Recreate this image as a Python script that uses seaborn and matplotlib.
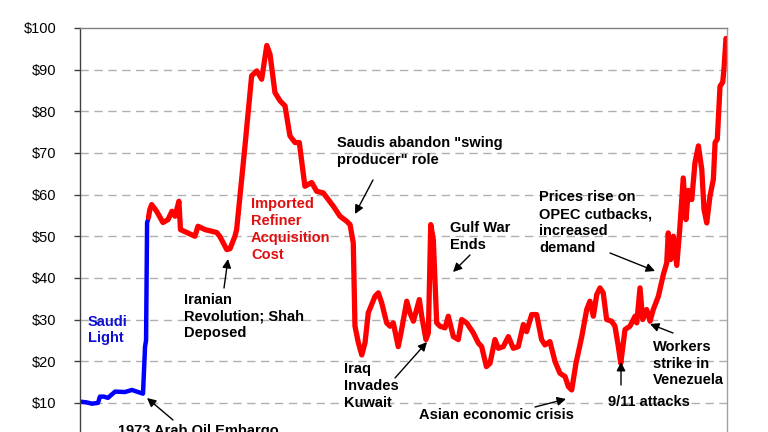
import matplotlib
matplotlib.use("Agg")
import matplotlib.pyplot as plt
import seaborn as sns
import pandas as pd

# ---- data (inflation-adjusted $/bbl) ----
saudi_year = [1970.0, 1970.4, 1970.7, 1971.06, 1971.17, 1971.4, 1971.64, 1972.06, 1972.64,
              1973.05, 1973.41, 1973.7, 1973.82, 1973.88, 1973.94, 1974.0]
saudi_price = [10.3, 10.1, 9.8, 10.0, 11.5, 11.5, 11.2, 12.7, 12.6, 13.1, 12.6, 12.2, 23.5, 25.0, 53.3, 54.0]

rac_year = [1974.02, 1974.1, 1974.21, 1974.5, 1974.87, 1975.17, 1975.4, 1975.58, 1975.81, 1975.9,
            1976.17, 1976.75, 1976.93, 1977.34, 1978.03, 1978.22, 1978.62, 1978.81, 1979.1, 1979.2,
            1979.69, 1980.08, 1980.38, 1980.67, 1980.97, 1981.16, 1981.45, 1981.75, 1982.04, 1982.33,
            1982.63, 1982.88, 1983.21, 1983.61, 1983.9, 1984.29, 1984.88, 1985.27, 1985.66, 1985.86,
            1986.05, 1986.15, 1986.35, 1986.55, 1986.74, 1986.93, 1987.33, 1987.52, 1987.72, 1988.01,
            1988.21, 1988.4, 1988.69, 1988.89, 1989.19, 1989.38, 1989.58, 1989.93, 1990.07, 1990.32,
            1990.46, 1990.6, 1990.75, 1990.95, 1991.14, 1991.44, 1991.63, 1991.93, 1992.22, 1992.42,
            1992.71, 1993.1, 1993.39, 1993.59, 1993.87, 1994.08, 1994.37, 1994.57, 1994.86, 1995.16,
            1995.45, 1995.74, 1996.04, 1996.23, 1996.53, 1996.82, 1997.11, 1997.31, 1997.6, 1997.9,
            1998.19, 1998.49, 1998.68, 1998.88, 1999.13, 1999.47, 1999.76, 1999.95, 2000.15, 2000.35,
            2000.54, 2000.73, 2000.93, 2001.22, 2001.42, 2001.62, 2001.76, 2002.01, 2002.3, 2002.6,
            2002.7, 2002.89, 2003.05, 2003.28, 2003.48, 2003.67, 2003.97, 2004.26, 2004.46, 2004.55,
            2004.69, 2004.85, 2005.05, 2005.23, 2005.43, 2005.59, 2005.73, 2005.93, 2006.12, 2006.32,
            2006.52, 2006.65, 2006.81, 2007.0, 2007.2, 2007.3, 2007.43, 2007.59, 2007.75, 2007.82,
            2007.94]
rac_price = [54.5, 56.4, 57.6, 56.0, 53.3, 54.0, 56.0, 54.8, 58.4, 51.6,
             51.1, 50.0, 52.4, 51.6, 50.9, 49.9, 46.8, 47.0, 50.0, 51.6,
             71.7, 88.5, 89.7, 87.7, 95.8, 93.7, 84.5, 82.5, 81.3, 74.1,
             72.5, 72.5, 62.0, 62.9, 60.8, 60.4, 57.2, 54.8, 53.6, 52.8,
             48.4, 28.4, 24.4, 21.5, 24.4, 31.6, 35.6, 36.4, 34.0, 29.2,
             28.4, 29.2, 23.5, 27.6, 34.4, 31.6, 29.6, 34.8, 30.8, 25.2,
             26.8, 52.8, 49.2, 29.2, 28.4, 28.0, 30.8, 25.9, 25.2, 30.0,
             29.2, 26.8, 24.4, 23.5, 18.7, 19.5, 25.2, 23.1, 23.5, 25.9,
             23.1, 23.5, 28.8, 27.1, 31.2, 31.2, 25.2, 23.9, 24.7, 19.9,
             17.1, 16.3, 13.9, 13.1, 19.5, 25.9, 32.4, 34.4, 30.8, 36.0,
             37.6, 36.4, 30.0, 29.6, 28.4, 23.5, 19.5, 27.6, 28.4, 30.8,
             29.2, 37.6, 30.0, 32.4, 29.6, 32.4, 35.6, 40.8, 43.6, 50.8,
             44.4, 50.0, 43.0, 52.0, 64.0, 54.0, 61.0, 58.8, 67.7, 71.7,
             66.0, 56.4, 53.2, 59.6, 63.7, 72.5, 73.3, 86.0, 87.0, 90.0,
             97.5]

y_ticks = [10, 20, 30, 40, 50, 60, 70, 80, 90, 100]
y_labels = ["$10", "$20", "$30", "$40", "$50", "$60", "$70", "$80", "$90", "$100"]

saudi = pd.DataFrame({"year": saudi_year, "price": saudi_price})
rac = pd.DataFrame({"year": rac_year, "price": rac_price})

sns.set_style("white")
plt.rcParams["font.family"] = ["Liberation Sans", "DejaVu Sans"]

W, H = 768, 432
fig = plt.figure(figsize=(7.68, 4.32), dpi=100)
ax = fig.add_axes([80 / W, (H - 444.5) / H, 647 / W, 416.5 / H])

sns.lineplot(data=saudi, x="year", y="price", ax=ax, color="#0000FF", lw=3.2,
             sort=False, estimator=None, solid_joinstyle="round", solid_capstyle="round")
sns.lineplot(data=rac, x="year", y="price", ax=ax, color="#FF0000", lw=3.8,
             sort=False, estimator=None, solid_joinstyle="round", solid_capstyle="round")

ax.set_xlim(1970, 2008)
ax.set_ylim(0, 100)
ax.set_yticks(y_ticks)
ax.set_yticklabels(y_labels)
ax.set_xticks([])
ax.set_xlabel("")
ax.set_ylabel("")
for v in y_ticks[:-1]:
    ax.axhline(v, color="#B0B0B0", lw=1.0, ls=(0, (6, 4)), zorder=0)
ax.tick_params(axis="y", left=True, length=4, width=1, color="#404040", pad=13,
               labelsize=10.5, labelcolor="#000000")
ax.spines["left"].set_color("#404040")
ax.spines["top"].set_color("#808080")
ax.spines["right"].set_color("#A0A0A0")
ax.spines["bottom"].set_visible(False)
for s in ax.spines.values():
    s.set_linewidth(1.0)


def fp(x, y):
    return (x / W, 1 - y / H)


def label(txt, x, y, color="black", ha="left"):
    fig.text(*fp(x, y), txt, ha=ha, va="center", color=color, fontsize=10.5,
             fontweight="bold", linespacing=1.27, multialignment="left")


def arrow(tail, head):
    ax.annotate("", xy=fp(*head), xycoords="figure fraction", xytext=fp(*tail),
                textcoords="figure fraction",
                arrowprops=dict(arrowstyle="-|>", color="black", lw=1.0,
                                mutation_scale=13, shrinkA=0, shrinkB=0))


label("Saudi\nLight", 88, 330, color="#1010D0")
label("Imported\nRefiner\nAcquisition\nCost", 251, 229.5, color="#E01010")
label("Iranian\nRevolution; Shah\nDeposed", 184, 316.5)
arrow((224, 288), (228, 259))
label("Saudis abandon \"swing\nproducer\" role", 337, 151.5)
arrow((373, 180), (355, 214))
label("Gulf War\nEnds", 450, 236.5)
arrow((470, 255), (453, 272))
label("Iraq\nInvades\nKuwait", 344, 386)
arrow((395, 378), (427, 342))
label("Asian economic crisis", 419, 415)
arrow((535, 407), (566, 399))
label("Prices rise on\nOPEC cutbacks,\nincreased\ndemand", 539, 222.5)
arrow((610, 253), (655, 271))
label("9/11 attacks", 608, 401.5)
arrow((621, 385), (621, 362))
label("Workers\nstrike in\nVenezuela", 653, 363.5)
arrow((673, 333), (650, 324))
label("1973 Arab Oil Embargo", 118, 431)
arrow((173, 420), (147, 398))

fig.savefig("out.png", dpi=100)
